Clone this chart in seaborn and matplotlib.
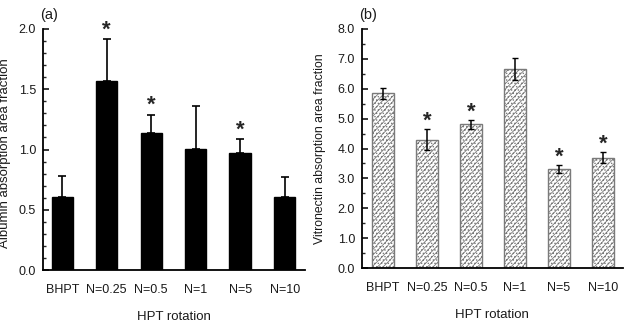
import numpy as np
import pandas as pd
import seaborn as sns
from matplotlib import pyplot as plt
from matplotlib.ticker import MultipleLocator, FormatStrFormatter

sns.set_style("ticks")
plt.rcParams["font.family"] = ["Liberation Sans", "DejaVu Sans"]
plt.rcParams["hatch.linewidth"] = 0.6

# data
groups = ["BHPT", "N=0.25", "N=0.5", "N=1", "N=5", "N=10"]
albumin = [0.61, 1.565, 1.136, 1.003, 0.97, 0.61]
albumin_err = [0.17, 0.35, 0.152, 0.36, 0.116, 0.166]
albumin_sig = [False, True, True, False, True, False]
vitro = [5.85, 4.30, 4.81, 6.66, 3.32, 3.69]
vitro_err = [0.18, 0.36, 0.15, 0.37, 0.13, 0.19]
vitro_sig = [False, True, True, False, True, True]

df_a = pd.DataFrame({"group": groups, "value": albumin})
df_v = pd.DataFrame({"group": groups, "value": vitro})

fig = plt.figure(figsize=(6.24, 3.25), dpi=100)
ax1 = fig.add_axes([0.069, 0.169, 0.420, 0.742])
ax2 = fig.add_axes([0.580, 0.175, 0.418, 0.736])

txt = "#1a1a1a"


def style_axis(ax, ymax, major, minor, xlim):
    ax.set_ylim(0, ymax)
    ax.set_xlim(*xlim)
    ax.yaxis.set_major_locator(MultipleLocator(major))
    ax.yaxis.set_minor_locator(MultipleLocator(minor))
    ax.yaxis.set_major_formatter(FormatStrFormatter("%.1f"))
    sns.despine(ax=ax)
    for s in ["left", "bottom"]:
        ax.spines[s].set_linewidth(1.3)
        ax.spines[s].set_color("black")
    ax.tick_params(axis="y", which="major", direction="in", length=4, width=1.1,
                   labelsize=9, colors="black", labelcolor=txt, pad=5)
    ax.tick_params(axis="y", which="minor", direction="in", length=2.5, width=1.0)
    ax.tick_params(axis="x", length=0, labelsize=9, labelcolor=txt, pad=10)
    ax.set_xlabel("HPT rotation", fontsize=9.5, color=txt, labelpad=11)


# (a) albumin
sns.barplot(data=df_a, x="group", y="value", ax=ax1, color="black",
            edgecolor="black", width=0.48, saturation=1)
ax1.errorbar(np.arange(len(groups)), albumin, yerr=[np.zeros(len(groups)), albumin_err],
             fmt="none", ecolor="black", elinewidth=1.2, capsize=3, capthick=1.2)
for i, (v, e, s) in enumerate(zip(albumin, albumin_err, albumin_sig)):
    if s:
        ax1.annotate("*", (i, v + e), xytext=(0, -1), textcoords="offset points",
                     ha="center", va="bottom", fontsize=16, fontweight="bold")
style_axis(ax1, 2.0, 0.5, 0.1, (-0.43, 5.46))
ax1.set_ylabel("Albumin absorption area fraction", fontsize=9.5, color=txt)
ax1.yaxis.set_label_coords(-0.122, 0.486)
ax1.text(-0.01, 1.03, "(a)", transform=ax1.transAxes, fontsize=10.5, color=txt,
         ha="left", va="bottom")

# (b) vitronectin
sns.barplot(data=df_v, x="group", y="value", ax=ax2, color="white",
            edgecolor="#7a7a7a", linewidth=1.0, width=0.5, saturation=1,
            hatch="//////.....")
ax2.errorbar(np.arange(len(groups)), vitro, yerr=vitro_err,
             fmt="none", ecolor="black", elinewidth=1.1, capsize=2, capthick=1.0)
for i, (v, e, s) in enumerate(zip(vitro, vitro_err, vitro_sig)):
    if s:
        ax2.annotate("*", (i, v + e), xytext=(0, -2), textcoords="offset points",
                     ha="center", va="bottom", fontsize=16, fontweight="bold")
style_axis(ax2, 8.0, 1.0, 0.5, (-0.48, 5.45))
ax2.set_ylabel("Vitronectin absorption area fraction", fontsize=8.8, color=txt)
ax2.yaxis.set_label_coords(-0.138, 0.498)
ax2.text(-0.01, 1.03, "(b)", transform=ax2.transAxes, fontsize=10.5, color=txt,
         ha="left", va="bottom")

fig.savefig("out.png", dpi=100)
